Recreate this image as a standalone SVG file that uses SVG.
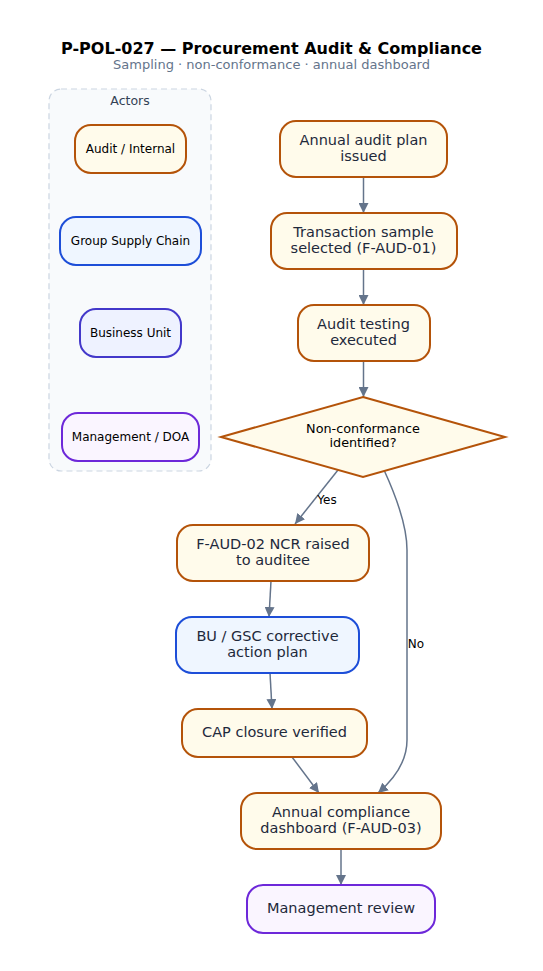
<svg xmlns="http://www.w3.org/2000/svg" width="543" height="971" viewBox="0 0 543 971">
<defs>
<marker id="arr" viewBox="0 0 10 10" refX="10" refY="5" markerWidth="10" markerHeight="10" markerUnits="userSpaceOnUse" orient="auto">
<path d="M0,0 L10,5 L0,10 z" fill="#64748b"/>
</marker>
<style>
text{font-family:"DejaVu Sans","Liberation Sans",sans-serif;fill:#1e293b;text-anchor:middle}
.t{font-size:16px;font-weight:bold;fill:#000}
.st{font-size:13px;fill:#64748b}
.cl{font-size:12.5px;fill:#334155}
.a{font-size:12px;fill:#000}
.n{font-size:14.5px}
.d{font-size:12.8px;fill:#000}
.el{font-size:12px;fill:#000}
.aud{fill:#fffbeb;stroke:#b45309;stroke-width:2}
.gsc{fill:#eff6ff;stroke:#1d4ed8;stroke-width:2}
.bu{fill:#eef2ff;stroke:#4338ca;stroke-width:2}
.mgt{fill:#faf5ff;stroke:#6d28d9;stroke-width:2}
.e{fill:none;stroke:#64748b;stroke-width:1.5;marker-end:url(#arr)}
</style>
</defs>
<rect width="543" height="971" fill="#fff"/>
<text class="t" x="271.5" y="54">P-POL-027 — Procurement Audit &amp; Compliance</text>
<text class="st" x="271.5" y="68.5">Sampling · non-conformance · annual dashboard</text>

<g id="actors">
<rect x="49" y="89" width="162" height="382" rx="12" fill="#f8fafc" stroke="#cbd5e1" stroke-width="1.2" stroke-dasharray="6 4"/>
<text class="cl" x="130" y="105">Actors</text>
</g>
<g id="actor-audit"><rect class="aud" x="75" y="125" width="111" height="48" rx="16"/><text class="a" x="130.5" y="153">Audit / Internal</text></g>
<g id="actor-gsc"><rect class="gsc" x="60" y="217" width="141" height="48" rx="16"/><text class="a" x="130.5" y="245">Group Supply Chain</text></g>
<g id="actor-bu"><rect class="bu" x="80" y="309" width="101" height="48" rx="16"/><text class="a" x="130.5" y="337">Business Unit</text></g>
<g id="actor-mgmt"><rect class="mgt" x="62" y="413" width="137" height="48" rx="16"/><text class="a" x="130.5" y="441">Management / DOA</text></g>

<g id="connectors">
<path class="e" d="M363.5,177 L363.5,213"/>
<path class="e" d="M363.5,269 L363.5,305"/>
<path class="e" d="M363.5,361 L363.5,397"/>
<path class="e" d="M338,470 L295,524"/>
<text class="el" x="327" y="504">Yes</text>
<path class="e" d="M271,581 L269,617"/>
<path class="e" d="M270,673 L272,709"/>
<path class="e" d="M292,757 L319,793"/>
<path class="e" d="M384,470 Q407,520 407,550 L407,740 Q407,768 378,793"/>
<text class="el" x="416" y="648">No</text>
<path class="e" d="M341,849 L341,885"/>
</g>

<g id="n-plan"><rect class="aud" x="280" y="121" width="167" height="56" rx="16"/><text class="n" x="363.5" y="145">Annual audit plan</text><text class="n" x="363.5" y="161">issued</text></g>
<g id="n-sample"><rect class="aud" x="271" y="213" width="186" height="56" rx="16"/><text class="n" x="363.5" y="237">Transaction sample</text><text class="n" x="363.5" y="253">selected (F-AUD-01)</text></g>
<g id="n-testing"><rect class="aud" x="298" y="305" width="132" height="56" rx="16"/><text class="n" x="363.5" y="329">Audit testing</text><text class="n" x="363.5" y="345">executed</text></g>
<g id="n-decision"><polygon class="aud" points="363,397 505,437 363,477 221,437"/><text class="d" x="363" y="433">Non-conformance</text><text class="d" x="363" y="447">identified?</text></g>
<g id="n-ncr"><rect class="aud" x="177" y="525" width="192" height="56" rx="16"/><text class="n" x="273" y="549">F-AUD-02 NCR raised</text><text class="n" x="273" y="565">to auditee</text></g>
<g id="n-cap"><rect class="gsc" x="176" y="617" width="183" height="56" rx="16"/><text class="n" x="267.5" y="641">BU / GSC corrective</text><text class="n" x="267.5" y="657">action plan</text></g>
<g id="n-closure"><rect class="aud" x="182" y="709" width="185" height="48" rx="16"/><text class="n" x="274.5" y="737">CAP closure verified</text></g>
<g id="n-dashboard"><rect class="aud" x="241" y="793" width="200" height="56" rx="16"/><text class="n" x="341" y="817">Annual compliance</text><text class="n" x="341" y="833">dashboard (F-AUD-03)</text></g>
<g id="n-review"><rect class="mgt" x="247" y="885" width="188" height="48" rx="16"/><text class="n" x="341" y="913">Management review</text></g>
</svg>
